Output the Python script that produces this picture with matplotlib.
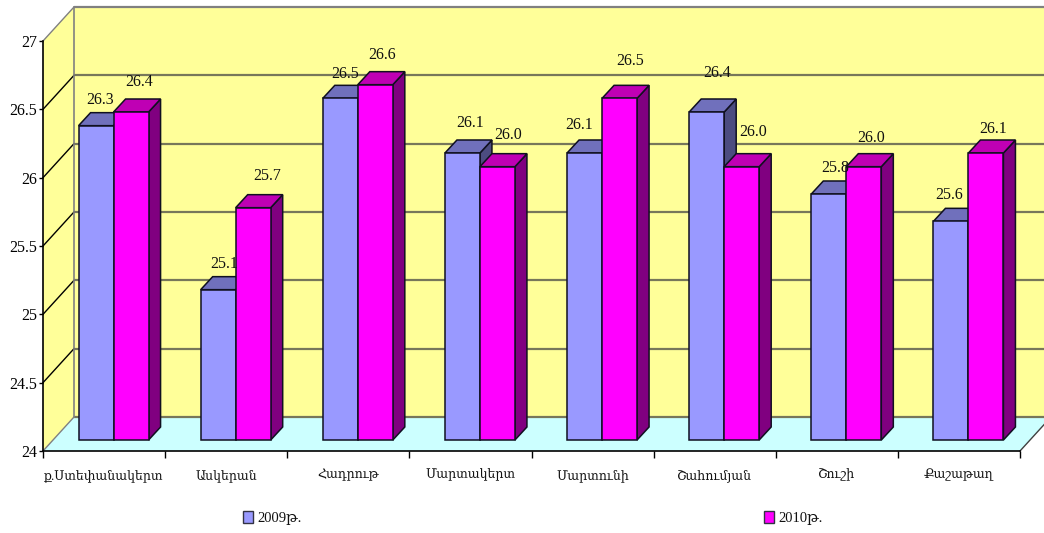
import matplotlib
matplotlib.use("Agg")
import matplotlib.pyplot as plt
from matplotlib.patches import Polygon

categories = ["ք.Ստեփանակերտ", "Ասկերան", "Հադրութ", "Մարտակերտ",
              "Մարտունի", "Շահումյան", "Շուշի", "Քաշաթաղ"]
values_2009 = [26.3, 25.1, 26.5, 26.1, 26.1, 26.4, 25.8, 25.6]
values_2010 = [26.4, 25.7, 26.6, 26.0, 26.5, 26.0, 26.0, 26.1]
y_ticks = [24, 24.5, 25, 25.5, 26, 26.5, 27]
y_tick_labels = ["24", "24.5", "25", "25.5", "26", "26.5", "27"]
series_names = ["2009թ.", "2010թ."]

# label nudges in pixels relative to each bar's front-top centre
nudge_2009 = [(4, 26), (6, 26), (5, 24), (8, 30), (-5, 28), (10, 39), (6, 26), (-2, 26)]
nudge_2010 = [(8, 30), (14, 32), (7, 30), (11, 32), (11, 37), (11, 35), (7, 29), (7, 24)]

SERIF = ["Liberation Serif", "DejaVu Serif", "DejaVu Sans"]
plt.rcParams["font.family"] = SERIF

W, H = 1044, 533
fig = plt.figure(figsize=(W / 100, H / 100), dpi=100, facecolor="white")
ax = fig.add_axes([43 / W, (H - 451) / H, (1020 - 43) / W, (451 - 41) / H])
ax.set_xlim(-0.5, 7.5)
ax.set_ylim(24, 27)
ax.patch.set_visible(False)

PX = 122.125   # pixels per category
PY = 136.67    # pixels per value unit
wall_dx, wall_dy = 31 / PX, 34 / PY
front_dx, front_dy = 9.5 / PX, 11 / PY
d_dx, d_dy = 12 / PX, 13 / PY
bar_w = 35 / PX

YELLOW, FLOOR = "#FFFF99", "#CCFFFF"
x0, x1 = -0.5, 7.5
# walls and floor
ax.add_patch(Polygon([(x0 + wall_dx, 24 + wall_dy), (x1 + wall_dx, 24 + wall_dy),
                      (x1 + wall_dx, 27 + wall_dy), (x0 + wall_dx, 27 + wall_dy)],
                     closed=True, fc=YELLOW, ec="none", clip_on=False, zorder=1))
ax.add_patch(Polygon([(x0, 24), (x0 + wall_dx, 24 + wall_dy), (x0 + wall_dx, 27 + wall_dy), (x0, 27)],
                     closed=True, fc=YELLOW, ec="none", clip_on=False, zorder=1))
ax.add_patch(Polygon([(x0, 24), (x1, 24), (x1 + wall_dx, 24 + wall_dy), (x0 + wall_dx, 24 + wall_dy)],
                     closed=True, fc=FLOOR, ec="none", clip_on=False, zorder=1))
for i, v in enumerate(y_ticks):
    color = "#808080" if v == 27 else "#77775a"
    ax.plot([x0 + wall_dx, x1 + wall_dx], [v + wall_dy] * 2, color=color,
            lw=1.6, clip_on=False, zorder=2, solid_capstyle="butt")
    slant = "#808080" if v in (24, 27) else "black"
    ax.plot([x0, x0 + wall_dx], [v, v + wall_dy], color=slant, lw=1.0, clip_on=False, zorder=2)
ax.plot([x0 + wall_dx] * 2, [24 + wall_dy, 27 + wall_dy], color="#808080", lw=1.2, clip_on=False, zorder=2)
ax.plot([x1, x1 + wall_dx], [24, 24 + wall_dy], color="#404040", lw=1.0, clip_on=False, zorder=2)


def draw_bar(left, value, front, top, side, z):
    bars = ax.bar(left, value - 24, width=bar_w, bottom=24 + front_dy, align="edge",
                  color=front, edgecolor="#101020", linewidth=1.1, zorder=z + 0.2)
    r = left + bar_w
    t = value + front_dy
    b = 24 + front_dy
    ax.add_patch(Polygon([(r, b), (r + d_dx, b + d_dy), (r + d_dx, t + d_dy), (r, t)], closed=True,
                         fc=side, ec="#101020", lw=1.1, zorder=z, clip_on=False))
    ax.add_patch(Polygon([(left, t), (r, t), (r + d_dx, t + d_dy), (left + d_dx, t + d_dy)], closed=True,
                         fc=top, ec="#101020", lw=1.1, zorder=z, clip_on=False))
    return bars


zb = 3
for i, (a, b) in enumerate(zip(values_2009, values_2010)):
    c = i + front_dx
    h1 = draw_bar(c - bar_w, a, "#9999FF", "#7070BC", "#4C4C80", zb)
    h2 = draw_bar(c, b, "#FF00FF", "#BF00B4", "#800080", zb + 1)
    zb += 2
    for left, val, nudge in ((c - bar_w, a, nudge_2009[i]), (c, b, nudge_2010[i])):
        ax.annotate(f"{val:.1f}", (left + bar_w / 2, val + front_dy),
                    xytext=(nudge[0] * 0.72, nudge[1] * 0.72), textcoords="offset points",
                    ha="center", va="center", fontsize=11.5, color="#111111",
                    annotation_clip=False, zorder=40)

# axes
for s in ("top", "right"):
    ax.spines[s].set_visible(False)
for s in ("left", "bottom"):
    ax.spines[s].set_linewidth(1.2)
    ax.spines[s].set_zorder(30)
ax.set_yticks(y_ticks, y_tick_labels, fontsize=11.5)
ax.tick_params(axis="y", length=3, width=1, pad=1)
ax.set_xticks([k - 0.5 for k in range(9)])
ax.set_xticklabels([])
ax.tick_params(axis="x", which="major", length=5, width=1)
ax.set_xticks(range(8), minor=True)
ax.set_xticklabels(categories, minor=True, fontsize=9, color="#111111")
ax.tick_params(axis="x", which="minor", length=0, pad=13)

leg = fig.legend([h1[0], h2[0]], series_names, ncol=2, loc="center",
                 bbox_to_anchor=(533 / W, (H - 518) / H), frameon=False, fontsize=10.5,
                 handlelength=0.68, handleheight=0.9, handletextpad=0.3, columnspacing=31.7,
                 borderpad=0, labelcolor="#111111")
for h in leg.legend_handles:
    h.set_edgecolor("#333344")
    h.set_linewidth(1)

fig.savefig("out.png", dpi=100)
